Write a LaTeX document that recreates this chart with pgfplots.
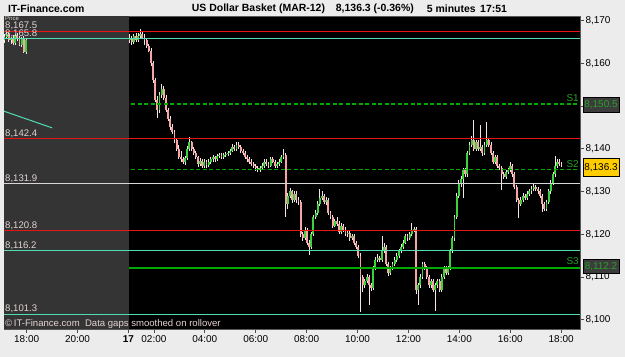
\documentclass[border=0pt]{standalone}
\usepackage{pgfplots}
\usepackage{pgfplotstable}
\pgfplotsset{compat=1.18}
\usepackage{fontspec}
\setmainfont{Liberation Sans}
\definecolor{bgc}{RGB}{236,236,236}
\definecolor{greyreg}{RGB}{52,52,52}
\definecolor{redl}{RGB}{235,20,20}
\definecolor{teall}{RGB}{80,220,180}
\definecolor{whitel}{RGB}{215,215,215}
\definecolor{greenl}{RGB}{0,170,0}
\definecolor{greent}{RGB}{40,160,40}
\definecolor{upc}{RGB}{60,210,60}
\definecolor{dnc}{RGB}{245,165,165}
\definecolor{wick}{RGB}{245,228,228}
\definecolor{lbl}{RGB}{228,212,212}
\definecolor{boxg}{RGB}{60,60,60}
\definecolor{yel}{RGB}{255,204,0}

\pgfplotstableread{
i o h l c
0 8165.5 8166.8 8164.8 8166.2
1 8166.2 8167.4 8165.6 8166.8
2 8166.8 8167.2 8165.0 8165.4
3 8165.4 8166.2 8164.6 8165.8
4 8165.8 8166.6 8164.2 8164.8
5 8164.8 8166.8 8164.4 8166.4
6 8166.4 8167.0 8165.2 8165.6
7 8165.6 8166.5 8164.0 8164.4
8 8164.4 8166.2 8163.8 8165.8
9 8165.8 8166.4 8162.4 8162.6
10 8162.6 8165.8 8162.2 8165.4
}\grey

\pgfplotstableread{
i o h l c
0 8165.5 8166.8 8164.8 8166.0
1 8166.0 8166.5 8164.3 8165.0
2 8165.0 8167.0 8164.6 8166.5
3 8166.5 8167.0 8165.0 8165.5
4 8165.5 8167.2 8165.0 8166.5
5 8166.5 8168.0 8166.0 8167.0
6 8167.0 8167.4 8165.6 8166.0
7 8166.0 8166.8 8164.2 8165.5
8 8165.5 8166.0 8163.6 8164.0
9 8164.0 8164.6 8162.6 8163.0
10 8163.0 8163.5 8159.5 8160.0
11 8160.0 8160.6 8155.5 8156.0
12 8156.0 8156.5 8151.0 8151.5
13 8151.5 8152.4 8147.2 8149.0
14 8149.0 8153.2 8148.4 8152.5
15 8152.5 8155.2 8151.8 8154.0
16 8154.0 8154.6 8151.4 8152.0
17 8152.0 8152.6 8148.5 8149.0
18 8149.0 8149.5 8146.5 8147.0
19 8147.0 8147.6 8144.5 8145.0
20 8145.0 8145.8 8143.5 8144.0
21 8144.0 8144.5 8141.4 8142.0
22 8142.0 8142.5 8139.5 8140.0
23 8140.0 8140.8 8137.5 8138.0
24 8138.0 8139.5 8137.0 8137.5
25 8137.5 8138.0 8136.5 8137.0
26 8137.0 8138.2 8136.3 8137.8
27 8137.8 8140.6 8137.4 8140.0
28 8140.0 8142.8 8139.6 8141.5
29 8141.5 8141.9 8139.5 8140.0
30 8140.0 8140.5 8138.5 8139.0
31 8139.0 8139.6 8137.5 8138.0
32 8138.0 8138.4 8135.8 8136.5
33 8136.5 8137.8 8136.0 8137.2
34 8137.2 8137.6 8135.5 8136.0
35 8136.0 8137.6 8135.6 8137.0
36 8137.0 8137.4 8135.6 8136.2
37 8136.2 8137.5 8135.8 8137.0
38 8137.0 8138.0 8136.5 8137.5
39 8137.5 8138.6 8137.0 8138.0
40 8138.0 8138.4 8137.0 8137.5
41 8137.5 8138.8 8137.2 8138.2
42 8138.2 8139.0 8137.8 8138.6
43 8138.6 8139.0 8137.5 8138.0
44 8138.0 8139.0 8137.6 8138.5
45 8138.5 8139.3 8138.0 8138.8
46 8138.8 8139.5 8138.4 8139.0
47 8139.0 8140.0 8138.6 8139.5
48 8139.5 8141.2 8139.2 8140.5
49 8140.5 8141.0 8139.5 8140.0
50 8140.0 8141.6 8139.6 8141.0
51 8141.0 8141.5 8140.0 8140.5
52 8140.5 8141.0 8139.0 8139.5
53 8139.5 8140.0 8138.5 8139.0
54 8139.0 8139.4 8137.5 8138.0
55 8138.0 8138.6 8137.0 8137.5
56 8137.5 8138.0 8136.5 8137.0
57 8137.0 8137.6 8136.0 8136.5
58 8136.5 8137.0 8135.5 8136.0
59 8136.0 8136.5 8134.8 8135.5
60 8135.5 8136.0 8134.5 8135.0
61 8135.0 8136.0 8134.6 8135.5
62 8135.5 8136.6 8135.0 8136.0
63 8136.0 8137.6 8135.6 8137.0
64 8137.0 8137.5 8136.0 8136.5
65 8136.5 8137.0 8135.5 8136.0
66 8136.0 8138.0 8135.7 8137.5
67 8137.5 8138.0 8136.6 8137.0
68 8137.0 8137.4 8135.5 8136.0
69 8136.0 8137.0 8135.6 8136.5
70 8136.5 8137.6 8136.0 8137.0
71 8137.0 8138.6 8136.6 8138.0
72 8138.0 8140.0 8137.6 8138.5
73 8138.5 8139.0 8124.0 8127.0
74 8127.0 8129.6 8126.0 8129.0
75 8129.0 8130.8 8128.5 8130.0
76 8130.0 8130.4 8127.4 8128.0
77 8128.0 8130.0 8127.5 8129.5
78 8129.5 8130.0 8127.4 8128.0
79 8128.0 8128.6 8126.8 8127.5
80 8127.5 8128.0 8119.4 8120.0
81 8120.0 8120.6 8118.4 8119.0
82 8119.0 8121.8 8118.6 8121.0
83 8121.0 8121.4 8117.5 8118.0
84 8118.0 8118.6 8115.2 8117.0
85 8117.0 8120.6 8116.5 8120.0
86 8120.0 8124.6 8119.6 8124.0
87 8124.0 8125.6 8123.5 8125.0
88 8125.0 8127.8 8124.6 8127.0
89 8127.0 8130.5 8126.6 8128.5
90 8128.5 8130.0 8128.0 8129.0
91 8129.0 8129.5 8127.0 8127.5
92 8127.5 8128.6 8126.8 8128.0
93 8128.0 8128.4 8124.6 8125.0
94 8125.0 8125.5 8123.5 8124.0
95 8124.0 8124.5 8121.5 8122.0
96 8122.0 8123.6 8121.6 8123.0
97 8123.0 8124.0 8122.0 8122.5
98 8122.5 8123.0 8120.0 8120.5
99 8120.5 8122.6 8120.0 8122.0
100 8122.0 8122.5 8120.5 8121.0
101 8121.0 8121.6 8119.5 8120.0
102 8120.0 8121.0 8119.4 8120.3
103 8120.3 8120.8 8118.5 8119.0
104 8119.0 8120.0 8118.6 8119.5
105 8119.5 8120.0 8117.5 8118.0
106 8118.0 8118.5 8116.5 8117.0
107 8117.0 8117.5 8114.5 8115.0
108 8115.0 8115.5 8101.8 8110.0
109 8110.0 8110.5 8106.5 8108.0
110 8108.0 8109.6 8107.4 8109.0
111 8109.0 8110.6 8108.5 8110.0
112 8110.0 8110.5 8103.4 8108.0
113 8108.0 8108.5 8106.8 8107.5
114 8107.5 8112.6 8107.0 8112.0
115 8112.0 8114.6 8111.5 8114.0
116 8114.0 8115.4 8113.5 8114.5
117 8114.5 8115.0 8113.4 8114.0
118 8114.0 8119.5 8113.6 8116.0
119 8116.0 8118.0 8115.5 8117.0
120 8117.0 8117.5 8112.5 8113.0
121 8113.0 8113.5 8110.2 8111.0
122 8111.0 8112.6 8110.5 8112.0
123 8112.0 8113.6 8111.5 8113.0
124 8113.0 8114.6 8112.5 8114.0
125 8114.0 8115.6 8113.5 8115.0
126 8115.0 8116.6 8114.5 8116.0
127 8116.0 8117.6 8115.5 8117.0
128 8117.0 8118.6 8116.5 8118.0
129 8118.0 8120.0 8117.6 8119.5
130 8119.5 8120.0 8118.5 8119.0
131 8119.0 8120.6 8118.6 8120.0
132 8120.0 8122.6 8119.6 8121.0
133 8121.0 8121.8 8120.5 8121.2
134 8121.2 8121.6 8106.0 8107.0
135 8107.0 8108.5 8103.4 8108.0
136 8108.0 8110.6 8107.5 8110.0
137 8110.0 8113.6 8109.5 8113.0
138 8113.0 8113.5 8111.5 8112.0
139 8112.0 8112.5 8109.5 8110.0
140 8110.0 8110.5 8107.5 8108.0
141 8108.0 8109.6 8107.5 8109.0
142 8109.0 8109.5 8106.5 8107.0
143 8107.0 8108.5 8102.0 8108.0
144 8108.0 8109.6 8107.5 8109.0
145 8109.0 8109.5 8106.5 8107.0
146 8107.0 8110.6 8106.5 8110.0
147 8110.0 8112.6 8109.5 8112.0
148 8112.0 8112.5 8110.5 8111.0
149 8111.0 8112.6 8110.5 8112.0
150 8112.0 8116.6 8111.5 8116.0
151 8116.0 8119.6 8115.5 8119.0
152 8119.0 8124.6 8118.5 8124.0
153 8124.0 8129.6 8123.5 8129.0
154 8129.0 8132.6 8128.5 8132.0
155 8132.0 8133.6 8131.0 8133.0
156 8133.0 8135.6 8128.5 8135.0
157 8135.0 8135.5 8133.5 8134.0
158 8134.0 8139.6 8133.5 8139.0
159 8139.0 8141.6 8138.5 8141.0
160 8141.0 8143.0 8140.5 8142.0
161 8142.0 8146.8 8139.5 8140.0
162 8140.0 8142.0 8139.5 8141.5
163 8141.5 8142.0 8139.5 8140.0
164 8140.0 8145.5 8139.5 8140.5
165 8140.5 8141.0 8138.4 8139.0
166 8139.0 8141.6 8138.5 8141.0
167 8141.0 8146.2 8140.5 8142.0
168 8142.0 8142.5 8140.5 8141.0
169 8141.0 8141.5 8138.5 8139.0
170 8139.0 8139.5 8136.5 8137.0
171 8137.0 8138.6 8136.5 8138.0
172 8138.0 8138.5 8135.5 8136.0
173 8136.0 8136.5 8135.0 8135.5
174 8135.5 8136.0 8130.4 8134.0
175 8134.0 8134.5 8133.0 8133.5
176 8133.5 8135.0 8133.0 8134.5
177 8134.5 8135.6 8134.0 8135.0
178 8135.0 8137.0 8134.5 8136.0
179 8136.0 8136.5 8133.5 8134.0
180 8134.0 8134.5 8130.5 8131.0
181 8131.0 8131.5 8127.5 8128.0
182 8128.0 8128.5 8123.8 8127.0
183 8127.0 8128.6 8126.5 8128.0
184 8128.0 8129.6 8127.5 8129.0
185 8129.0 8129.5 8128.0 8128.5
186 8128.5 8130.0 8128.0 8129.5
187 8129.5 8130.6 8129.0 8130.0
188 8130.0 8131.2 8129.5 8130.5
189 8130.5 8131.8 8130.0 8131.0
190 8131.0 8131.5 8130.0 8130.5
191 8130.5 8131.0 8129.5 8130.0
192 8130.0 8130.5 8128.5 8129.0
193 8129.0 8129.5 8125.3 8127.0
194 8127.0 8127.5 8125.5 8126.0
195 8126.0 8128.0 8125.5 8127.5
196 8127.5 8130.6 8127.0 8130.0
197 8130.0 8132.6 8129.5 8132.0
198 8132.0 8134.6 8131.5 8134.0
199 8134.0 8138.2 8133.5 8136.0
200 8136.0 8137.6 8135.5 8137.0
201 8137.0 8137.5 8136.0 8136.5
202 8136.5 8137.0 8135.8 8136.3
}\main

\pgfplotsset{
  wickbar/.style={draw=none, mark=none, forget plot,
    error bars/.cd, y dir=plus, y explicit, error mark=none,
    error bar style={draw=wick, line width=0.7bp}},
  upbar/.style={draw=none, mark=none, forget plot,
    restrict expr to domain={\thisrow{c}-\thisrow{o}}{0:100},
    error bars/.cd, y dir=plus, y explicit, error mark=none,
    error bar style={draw=upc, line width=1.9bp}},
  dnbar/.style={draw=none, mark=none, forget plot,
    restrict expr to domain={\thisrow{c}-\thisrow{o}}{-100:-0.0001},
    error bars/.cd, y dir=plus, y explicit, error mark=none,
    error bar style={draw=dnc, line width=1.9bp}},
}

\begin{document}
\begin{tikzpicture}
\useasboundingbox (0,0) rectangle (625bp,357bp);
\fill[bgc] (0,0) rectangle (625bp,357bp);
\begin{axis}[
  at={(4bp,28bp)}, anchor=south west, scale only axis,
  width=576bp, height=313bp,
  xmin=-0.89, xmax=21.74, ymin=8097.8, ymax=8171.1,
  axis background/.style={fill=black},
  axis line style={draw=gray!70!black, line width=0.8bp},
  xtick={0,2,4,5,7,9,11,13,15,17,19,21},
  xticklabels={18:00,20:00,\textbf{17},02:00,04:00,06:00,08:00,10:00,12:00,14:00,16:00,18:00},
  ytick={8100,8110,8120,8130,8140,8160,8170},
  yticklabels={{8,100},{8,110},{8,120},{8,130},{8,140},{8,160},{8,170}},
  extra y ticks={8150}, extra y tick labels={},
  xtick pos=left, ytick pos=right, yticklabel pos=right,
  tick align=outside, major tick length=4bp,
  tick style={draw=gray!60!black, line width=0.7bp},
  tick label style={font=\fontsize{10}{12}\selectfont, text=black},
  yticklabel style={xshift=-2bp},
  xticklabel style={yshift=1bp},
  clip=true,
]
\fill[greyreg] (axis cs:-0.89,8097.8) rectangle (axis cs:4.02,8171.1);

% moving average remnant in grey area
\addplot[teall, line width=1bp] coordinates {(-0.89,8148.8) (1.0,8144.9)};

% candles: wicks, then bodies
\addplot[wickbar] table[x expr=4.043+0.084*\thisrow{i}, y=l, y error expr=\thisrow{h}-\thisrow{l}] {\main};
\addplot[wickbar] table[x expr=-0.87+0.084*\thisrow{i}, y=l, y error expr=\thisrow{h}-\thisrow{l}] {\grey};
\addplot[dnbar] table[x expr=4.043+0.084*\thisrow{i}, y expr={min(\thisrow{o},\thisrow{c})}, y error expr={abs(\thisrow{c}-\thisrow{o})}] {\main};
\addplot[dnbar] table[x expr=-0.87+0.084*\thisrow{i}, y expr={min(\thisrow{o},\thisrow{c})}, y error expr={abs(\thisrow{c}-\thisrow{o})}] {\grey};
\addplot[upbar] table[x expr=4.043+0.084*\thisrow{i}, y expr={min(\thisrow{o},\thisrow{c})}, y error expr={abs(\thisrow{c}-\thisrow{o})}] {\main};
\addplot[upbar] table[x expr=-0.87+0.084*\thisrow{i}, y expr={min(\thisrow{o},\thisrow{c})}, y error expr={abs(\thisrow{c}-\thisrow{o})}] {\grey};

% horizontal levels
\addplot[redl, line width=1.2bp] coordinates {(-0.89,8167.4) (21.74,8167.4)};
\addplot[teall, line width=1bp] coordinates {(-0.89,8165.8) (21.74,8165.8)};
\addplot[redl, line width=1bp] coordinates {(-0.89,8142.4) (21.74,8142.4)};
\addplot[whitel, line width=1bp] coordinates {(-0.89,8131.9) (21.74,8131.9)};
\addplot[redl, line width=1bp] coordinates {(-0.89,8120.8) (21.74,8120.8)};
\addplot[teall, line width=1bp] coordinates {(-0.89,8116.2) (21.74,8116.2)};
\addplot[teall, line width=1bp] coordinates {(-0.89,8101.3) (21.74,8101.3)};
\addplot[draw=greenl, line width=1.4bp, dash pattern=on 4bp off 2.5bp] coordinates {(4.1,8150.5) (21.74,8150.5)};
\addplot[draw=greenl, line width=1.4bp, dash pattern=on 4bp off 2.5bp] coordinates {(4.1,8135.2) (21.74,8135.2)};
\addplot[draw=greenl, line width=2bp] coordinates {(4.02,8112.2) (21.74,8112.2)};

% level labels
\begin{scope}[every node/.style={inner sep=0pt, text=lbl, font=\fontsize{9.6}{11}\selectfont}]
\node[anchor=base west, font=\fontsize{6}{7}\selectfont] at (axis cs:-0.85,8170.0) {Price};
\node[anchor=base west] at (axis cs:-0.85,8168.1) {8,167.5};
\node[anchor=base west] at (axis cs:-0.85,8166.2) {8,165.8};
\node[anchor=base west] at (axis cs:-0.85,8142.9) {8,142.4};
\node[anchor=base west] at (axis cs:-0.85,8132.4) {8,131.9};
\node[anchor=base west] at (axis cs:-0.85,8121.3) {8,120.8};
\node[anchor=base west] at (axis cs:-0.85,8116.7) {8,116.2};
\node[anchor=base west] at (axis cs:-0.85,8101.8) {8,101.3};
\node[anchor=base west] at (axis cs:-0.85,8098.3) {\textcopyright\,IT-Finance.com\ \ Data gaps smoothed on rollover};
\end{scope}
\begin{scope}[every node/.style={inner sep=0pt, text=greent, font=\fontsize{10}{12}\selectfont, anchor=base east}]
\node at (axis cs:21.70,8151.0) {S1};
\node at (axis cs:21.70,8135.7) {S2};
\node at (axis cs:21.70,8112.8) {S3};
\end{scope}
\end{axis}

% title
\begin{scope}[every node/.style={inner sep=0pt, anchor=west, font=\bfseries\fontsize{10.5}{12}\selectfont}]
\node at (8bp,348.5bp) {IT-Finance.com};
\node at (191.7bp,348.5bp) {US Dollar Basket (MAR-12)};
\node at (335.7bp,348.5bp) {8,136.3 (-0.36\%)};
\node at (426.7bp,348.5bp) {5 minutes};
\node at (480bp,348.5bp) {17:51};
\end{scope}

% right boxes
\begin{scope}[every node/.style={inner sep=0pt, minimum width=36bp, draw=black, line width=0.6bp, font=\fontsize{10}{12}\selectfont}]
\node[fill=boxg, text=greent, minimum height=15bp] at (601bp,252.5bp) {8,150.5};
\node[fill=yel, text=black, minimum height=18bp] at (601bp,189.5bp) {8,136.3};
\node[fill=boxg, text=greent, minimum height=14bp] at (601bp,90.5bp) {8,112.2};
\end{scope}
\end{tikzpicture}
\end{document}
